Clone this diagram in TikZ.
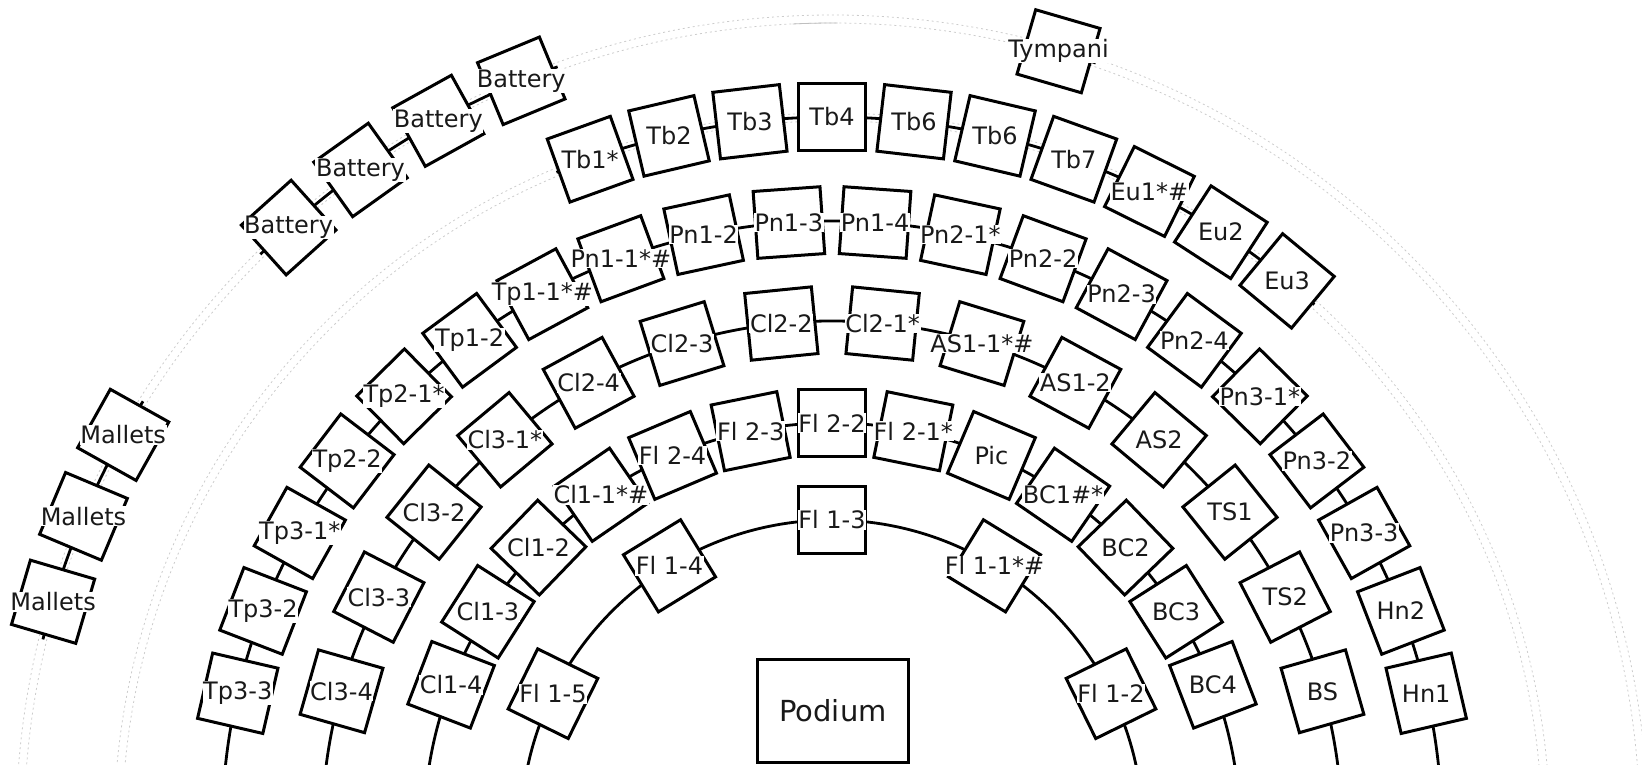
\documentclass[tikz,border=0pt]{standalone}
\usepackage{fontspec}
\setmainfont{DejaVu Sans}
\tikzset{
  every picture/.style={x=1pt, y=1pt},
  seatbox/.style={draw, fill=white, line width=3pt, minimum size=67pt, inner sep=0pt},
  seatlabel/.style={fill=white, inner sep=0.6pt, text=black!90, font=\fontsize{24}{27}\selectfont},
  rowline/.style={line width=2.8pt},
  faintline/.style={draw=black!20, line width=0.8pt, dash pattern=on 2pt off 3pt},
}
% one seat: box tangent to its row, label kept upright
\newcommand{\seat}[4]{%
  \node[seatbox, rotate=#1-90] (#3) at (#1:#2) {};
  \node[seatlabel] (#3-txt) at (#3) {#4};}

\begin{document}
\begin{tikzpicture}
  \useasboundingbox (-832,66) rectangle (810,831);
  \begin{scope}
    \clip (-832,66) rectangle (810,831);
    \foreach \r in {710,718,808,816}
      \draw[faintline] (0:\r) arc[start angle=0, end angle=180, radius=\r];
    \draw[draw=black!25, line width=0.8pt] (92.8:808) arc[start angle=92.8, end angle=89.6, radius=808];
    \foreach \r in {311,408,510,610}
      \draw[rowline] (0:\r) arc[start angle=0, end angle=180, radius=\r];
  \end{scope}
  \draw[rowline] (112.7:714) arc[start angle=112.7, end angle=47.5, radius=714];
  \draw[rowline] (134.75:812) arc[start angle=134.75, end angle=109.75, radius=812];
  \draw[rowline] (76.55:812) arc[start angle=76.55, end angle=71.05, radius=812];
  \draw[rowline] (166.35:812) arc[start angle=166.35, end angle=148.05, radius=812];

  \foreach \ang/\lab [count=\i] in {153.8/Fl 1-5, 121.5/Fl 1-4, 90/Fl 1-3, 58.5/Fl 1-1*\#, 26.2/Fl 1-2}
    \seat{\ang}{311}{r1-\i}{\lab};
  \foreach \lab [count=\i from 0] in {Cl1-4, Cl1-3, Cl1-2, Cl1-1*\#, Fl 2-4, Fl 2-3, Fl 2-2,
      Fl 2-1*, Pic, BC1\#*, BC2, BC3, BC4}{
    \pgfmathsetmacro\ang{159-11.5*\i}
    \seat{\ang}{408}{r2-\i}{\lab}}
  \foreach \lab [count=\i from 0] in {Cl3-4, Cl3-3, Cl3-2, Cl3-1*, Cl2-4, Cl2-3, Cl2-2,
      Cl2-1*, AS1-1*\#, AS1-2, AS2, TS1, TS2, BS}{
    \pgfmathsetmacro\ang{164.1-11.4*\i}
    \seat{\ang}{510}{r3-\i}{\lab}}
  \foreach \lab [count=\i from 0] in {Tp3-3, Tp3-2, Tp3-1*, Tp2-2, Tp2-1*, Tp1-2, Tp1-1*\#,
      Pn1-1*\#, Pn1-2, Pn1-3, Pn1-4, Pn2-1*, Pn2-2, Pn2-3, Pn2-4, Pn3-1*, Pn3-2, Pn3-3, Hn2, Hn1}{
    \pgfmathsetmacro\ang{166.95-8.1*\i}
    \seat{\ang}{610}{r4-\i}{\lab}}
  \foreach \lab [count=\i from 0] in {Tb1*, Tb2, Tb3, Tb4, Tb6, Tb6, Tb7, Eu1*\#, Eu2, Eu3}{
    \pgfmathsetmacro\ang{109.8-6.6*\i}
    \seat{\ang}{714}{r5-\i}{\lab}}
  \foreach \ang/\lab [count=\i] in {132/Battery, 125.5/Battery, 119/Battery, 112.5/Battery,
      73.8/Tympani, 150.8/Mallets, 157.2/Mallets, 163.6/Mallets}
    \seat{\ang}{812}{r6-\i}{\lab};

  \node[draw, line width=3pt, minimum width=151pt, minimum height=103pt, text=black!90,
    font=\fontsize{29}{33}\selectfont] (podium) at (1,120) {Podium};
\end{tikzpicture}
\end{document}
